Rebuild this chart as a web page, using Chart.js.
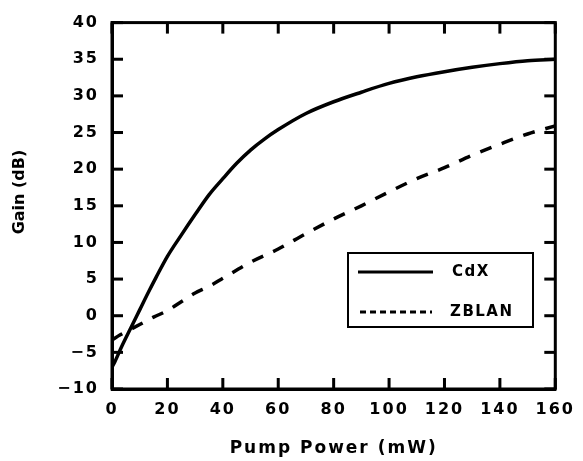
<!DOCTYPE html>
<html>
<head>
<meta charset="utf-8">
<script src="https://cdn.jsdelivr.net/npm/chart.js@4.4.1/dist/chart.umd.min.js"></script>
<style>
  html, body { margin: 0; padding: 0; background: #fff; }
  #wrap { width: 583px; height: 461px; }
</style>
</head>
<body>
<div id="wrap"><canvas id="c" width="583" height="461"></canvas></div>
<script>
// ---- data ----
const seriesNames = ['CdX', 'ZBLAN'];
const cdxPower = [0, 1, 3.5, 7, 10, 13, 16, 20, 25, 30, 35, 40, 45, 50, 55, 60, 70, 80, 90, 100, 110, 120, 130, 140, 150, 160];
const cdxGain  = [-7.0, -6.3, -4.2, -1.5, 0.8, 3.1, 5.3, 8.1, 11.0, 13.8, 16.5, 18.7, 20.8, 22.6, 24.1, 25.4, 27.6, 29.2, 30.5, 31.7, 32.6, 33.3, 33.9, 34.4, 34.8, 35.0];
const zblanPower = [0, 3, 6, 10, 15, 20, 25, 30, 35, 40, 50, 60, 70, 80, 90, 100, 110, 120, 130, 140, 150, 160];
const zblanGain  = [-3.3, -2.6, -2.0, -1.2, -0.2, 0.7, 1.9, 3.1, 4.0, 5.1, 7.3, 9.1, 11.2, 13.2, 15.0, 16.9, 18.7, 20.2, 21.9, 23.4, 24.8, 25.9];
const xTickValues = [0, 20, 40, 60, 80, 100, 120, 140, 160];
const yTickValues = [-10, -5, 0, 5, 10, 15, 20, 25, 30, 35, 40];
const xTitle = 'Pump Power (mW)';
const yTitle = 'Gain (dB)';

const FONT = '"DejaVu Sans", "Liberation Sans", sans-serif';

const toXY = (xs, ys) => xs.map((x, i) => ({ x: x, y: ys[i] }));

function strokeSeg(ctx, x1, y1, x2, y2) {
  ctx.beginPath();
  ctx.moveTo(x1, y1);
  ctx.lineTo(x2, y2);
  ctx.stroke();
}

const TICK_LEN = 11, TICK_W = 3;

const framePlugin = {
  id: 'frame',
  beforeDraw(chart) { chart.ctx.letterSpacing = '2px'; },
  afterDraw(chart) {
    const ctx = chart.ctx;
    ctx.letterSpacing = '0px';
    const area = chart.chartArea;
    const L = area.left, R = area.right, T = area.top, B = area.bottom;
    const xs = chart.scales.x, ys = chart.scales.y;

    // inward tick marks on all four sides (filled rectangles)
    ctx.save();
    ctx.globalAlpha = 1;
    ctx.globalCompositeOperation = 'source-over';
    ctx.fillStyle = '#000';
    xTickValues.forEach(v => {
      const px = xs.getPixelForValue(v);
      ctx.fillRect(px - TICK_W / 2, B - TICK_LEN, TICK_W, TICK_LEN);
      ctx.fillRect(px - TICK_W / 2, T, TICK_W, TICK_LEN);
    });
    yTickValues.forEach(v => {
      const py = ys.getPixelForValue(v);
      ctx.fillRect(L, py - TICK_W / 2, TICK_LEN, TICK_W);
      ctx.fillRect(R - TICK_LEN, py - TICK_W / 2, TICK_LEN, TICK_W);
    });
    ctx.strokeStyle = '#000';
    ctx.lineWidth = 3;
    ctx.strokeRect(L, T, R - L, B - T);
    ctx.restore();

    // y axis title
    ctx.save();
    ctx.translate(20, 192);
    ctx.rotate(-Math.PI / 2);
    ctx.font = 'bold 16px ' + FONT;
    ctx.fillStyle = '#000';
    ctx.textAlign = 'center';
    ctx.textBaseline = 'middle';
    ctx.letterSpacing = '0px';
    ctx.fillText(yTitle, 0, 0);
    ctx.restore();

    // legend box
    ctx.save();
    ctx.strokeStyle = '#000';
    ctx.lineWidth = 2;
    ctx.strokeRect(348, 253, 185, 74);
    ctx.lineWidth = 3;
    strokeSeg(ctx, 358, 272, 433, 272);
    ctx.setLineDash([6, 4]);
    strokeSeg(ctx, 360, 312, 432, 312);
    ctx.setLineDash([]);
    ctx.font = 'bold 15px ' + FONT;
    ctx.fillStyle = '#000';
    ctx.textAlign = 'left';
    ctx.textBaseline = 'middle';
    ctx.letterSpacing = '1.5px';
    ctx.fillText(seriesNames[0], 452, 272);
    ctx.fillText(seriesNames[1], 450, 312);
    ctx.restore();
  }
};

new Chart(document.getElementById('c'), {
  type: 'line',
  data: {
    datasets: [
      {
        label: seriesNames[0],
        data: toXY(cdxPower, cdxGain),
        borderColor: '#000',
        borderWidth: 3.5,
        pointRadius: 0,
        cubicInterpolationMode: 'monotone',
        fill: false
      },
      {
        label: seriesNames[1],
        data: toXY(zblanPower, zblanGain),
        borderColor: '#000',
        borderWidth: 3.5,
        borderDash: [12, 11],
        pointRadius: 0,
        cubicInterpolationMode: 'monotone',
        fill: false
      }
    ]
  },
  options: {
    responsive: false,
    animation: false,
    devicePixelRatio: 1,
    layout: { padding: { top: 22, right: 24, left: 0, bottom: 0 } },
    plugins: { legend: { display: false }, tooltip: { enabled: false } },
    scales: {
      x: {
        type: 'linear',
        min: xTickValues[0],
        max: xTickValues[xTickValues.length - 1],
        afterBuildTicks: s => { s.ticks = xTickValues.map(v => ({ value: v })); },
        grid: { display: false, drawTicks: false },
        border: { display: true, color: '#000', width: 3 },
        ticks: {
          color: '#000',
          padding: 11,
          maxRotation: 0,
          autoSkip: false,
          font: { family: FONT, size: 16, weight: 'bold' }
        },
        title: {
          display: true,
          text: xTitle,
          color: '#000',
          font: { family: FONT, size: 17, weight: 'bold' },
          padding: { top: 0, bottom: 2 }
        },
        afterFit: s => { s.height = 72; }
      },
      y: {
        type: 'linear',
        min: yTickValues[0],
        max: yTickValues[yTickValues.length - 1],
        afterBuildTicks: s => { s.ticks = yTickValues.map(v => ({ value: v })); },
        grid: { display: false, drawTicks: false },
        border: { display: true, color: '#000', width: 3 },
        ticks: {
          color: '#000',
          padding: 13,
          autoSkip: false,
          font: { family: FONT, size: 16, weight: 'bold' },
          callback: v => (v < 0 ? '\u2212' + Math.abs(v) : String(v))
        },
        title: { display: false },
        afterFit: s => { s.width = 112; }
      }
    }
  },
  plugins: [framePlugin]
});
</script>
</body>
</html>
